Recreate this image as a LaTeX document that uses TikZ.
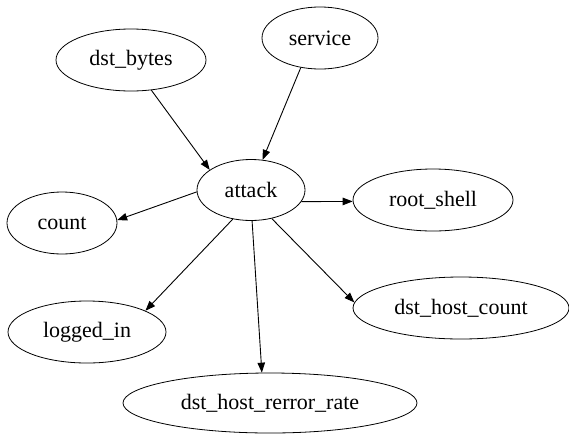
\documentclass[tikz,border=0pt]{standalone}
\usepackage{fontspec}
\setmainfont{Liberation Serif}
\usetikzlibrary{shapes.geometric,arrows.meta}
\tikzset{%
  feat/.style={draw, ellipse, inner sep=0pt, line width=0.8pt,
               font=\fontsize{22}{26}\selectfont},
  dep/.style={-{Triangle[length=10pt,width=7.5pt]}, line width=0.9pt},
}

\begin{document}
\begin{tikzpicture}[x=1pt,y=-1pt]
              \useasboundingbox (0,0) rectangle (569,434);
              \node[feat,minimum width=150pt,minimum height=62pt] (dstbytes) at (131,60) {dst\_bytes};
              \node[feat,minimum width=116pt,minimum height=62pt] (service) at (320,38) {service};
              \node[feat,minimum width=108pt,minimum height=61pt] (attack) at (251,190) {attack};
              \node[feat,minimum width=110pt,minimum height=62pt] (count) at (62,223) {count};
              \node[feat,minimum width=160pt,minimum height=62pt] (rootshell) at (433,200) {root\_shell};
              \node[feat,minimum width=158pt,minimum height=62pt] (loggedin) at (87,332) {logged\_in};
              \node[feat,minimum width=216pt,minimum height=62pt] (hostcount) at (461,308) {dst\_host\_count};
              \node[feat,minimum width=294pt,minimum height=60pt] (hostrerror) at (270,403) {dst\_host\_rerror\_rate};
              \draw[dep] (dstbytes.304) -- (attack.154);
              \draw[dep] (service.237) -- (attack.69);
              \draw[dep] (attack.182) -- (count.3);
              \draw[dep] (attack.347) -- (rootshell.181);
              \draw[dep] (attack.238) -- (loggedin.20);
              \draw[dep] (attack.272) -- (hostrerror.105);
              \draw[dep] (attack.306) -- (hostcount.177);
          \end{tikzpicture}
\end{document}
